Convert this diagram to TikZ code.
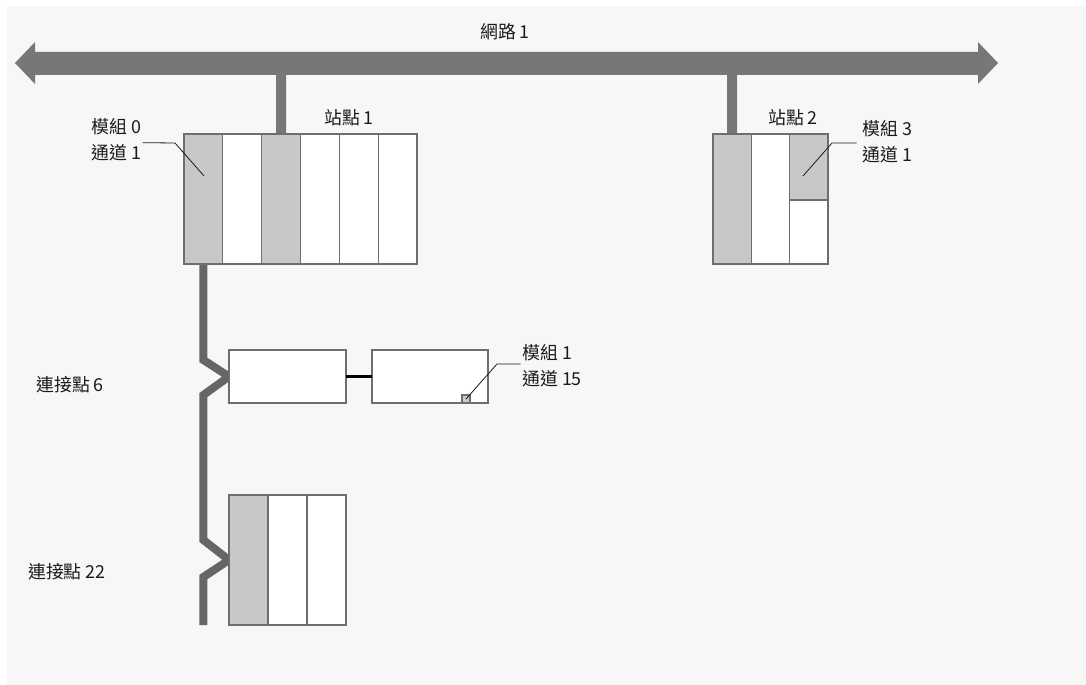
\documentclass[tikz,border=0pt]{standalone}
\usepackage{fontspec}
\setmainfont{Noto Sans CJK TC}
\usetikzlibrary{backgrounds}
\definecolor{panel}{HTML}{F7F7F7}
\definecolor{frame}{HTML}{6E6E6E}
\definecolor{slotgray}{HTML}{C8C8C8}
\definecolor{busgray}{HTML}{777777}
\definecolor{tapgray}{HTML}{666666}
\definecolor{ink}{HTML}{1A1A1A}
\begin{document}
\begin{tikzpicture}[x=0.75pt,y=-0.75pt,
  module/.style 2 args={draw=frame,line width=0.9pt,fill=white,
    minimum width=#1,minimum height=#2,inner sep=0pt,outer sep=0pt,anchor=north west},
  active/.style={fill=slotgray},
  lbl/.style={font=\fontsize{13.4}{19.5}\selectfont,text=ink,inner sep=0pt,align=left},
  drop/.style={draw=busgray,line width=7.5pt},
  tapline/.style={draw=tapgray,line width=6pt,line join=miter},
  link/.style={draw=black,line width=2.25pt},
  leader/.style={draw=ink,line width=0.6pt}]
\useasboundingbox (0,0) rectangle (1086,685);

% network bus (double-headed arrow)
\fill[busgray] (15,63) -- (35,42) -- (35,52) -- (978,52) -- (978,42) -- (998,63)
  -- (978,84) -- (978,75) -- (35,75) -- (35,84) -- cycle;
\coordinate (tap1) at (281,75);
\coordinate (tap2) at (732,75);
\node[lbl] (net) at (505,32) {網路 1};

% station 1: six slots
\foreach \i in {1,...,6}
  \node[module={29.12pt}{97.5pt}] (s1-\i) at ({184+(\i-1)*38.83},134) {};
\node[module={29.12pt}{97.5pt},active] at (s1-1.north west) {};
\node[module={29.12pt}{97.5pt},active] at (s1-3.north west) {};
\node[lbl] (st1) at (349,118) {站點 1};

% station 2: three slots, the last one split
\node[module={28.75pt}{97.5pt},active] (s2-1) at (713,134) {};
\node[module={28.75pt}{97.5pt}] (s2-2) at (751.33,134) {};
\node[module={28.75pt}{49.5pt},active] (s2-3a) at (789.67,134) {};
\node[module={28.75pt}{48pt}] (s2-3b) at (789.67,200) {};
\node[lbl] (st2) at (793,118) {站點 2};

% connection point 6: two modules
\node[module={87.75pt}{39.75pt}] (boxA) at (229,350) {};
\node[module={87pt}{39.75pt}] (boxB) at (372,350) {};
\node[module={6pt}{6pt},active] (sq) at (462,395) {};

% connection point 22: three slots
\foreach \i in {1,...,3}
  \node[module={29.25pt}{97.5pt}] (r3-\i) at ({229+(\i-1)*39},495) {};
\node[module={29.25pt}{97.5pt},active] at (r3-1.north west) {};

% labels
\node[lbl,anchor=west] (m0) at (91,140) {模組 0\\通道 1};
\node[lbl,anchor=west] (m3) at (862,142) {模組 3\\通道 1};
\node[lbl,anchor=west] (m1) at (522,366) {模組 1\\通道 15};
\node[lbl,anchor=west] (cp6) at (36,385) {連接點 6};
\node[lbl,anchor=west] (cp22) at (28,572) {連接點 22};

% leader lines
\coordinate (l0a) at (175,143);
\coordinate (l0b) at (204,176);
\coordinate (l3a) at (832,143);
\coordinate (l3b) at (803,176);
\coordinate (l1a) at (497,364);
\draw[leader] ([xshift=1pt,yshift=-2pt]m0.east) -- (l0a) -- (l0b);
\draw[leader] ([xshift=-4pt,yshift=-0.8pt]m3.west) -- (l3a) -- (l3b);
\draw[leader] (sq.center) -- (l1a) -- ([xshift=-1pt,yshift=1.5pt]m1.west);

% link between the two modules
\draw[link] (boxA.east) -- (boxB.west);

% drop lines and field bus, behind the modules
\coordinate (k1) at (203.4,360);
\coordinate (k2) at (203.4,395);
\coordinate (k3) at (203.4,540);
\coordinate (k4) at (203.4,577);
\coordinate (busend) at (203.4,625);
\begin{scope}[on background layer]
  \fill[white] (0,0) rectangle (1086,685);
  \fill[panel] (7,6) rectangle (1086,685);
  \draw[drop] (tap1) -- (s1-3.north);
  \draw[drop] (tap2) -- (s2-1.north);
  \draw[tapline] (s1-1.south) -- (k1) -- (boxA.west) -- (k2) -- (k3)
    -- (r3-1.west) -- (k4) -- (busend);
\end{scope}
\end{tikzpicture}
\end{document}
